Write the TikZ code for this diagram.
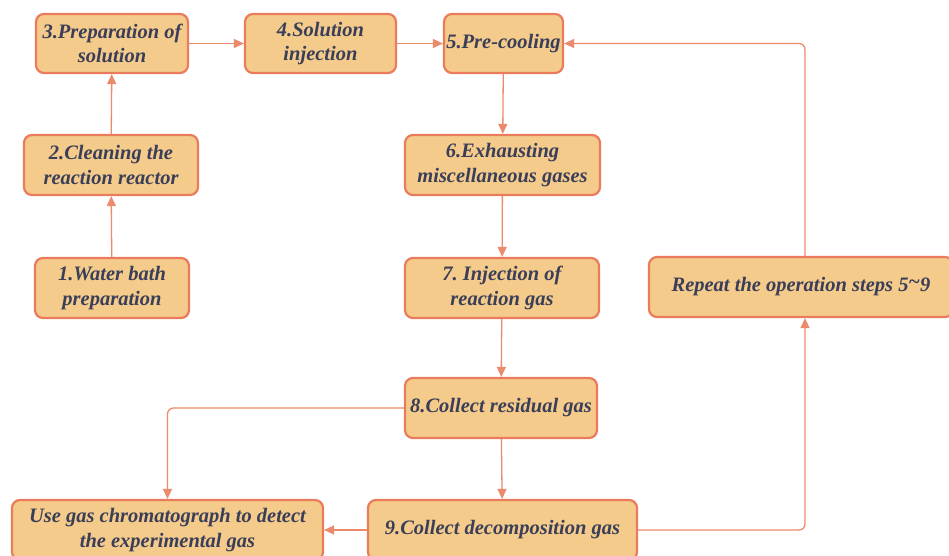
\documentclass[tikz,border=0pt]{standalone}
\usepackage{fontspec}
\setmainfont{Liberation Serif}
\usetikzlibrary{arrows.meta}
\definecolor{boxfill}{HTML}{F4CB8A}
\definecolor{boxline}{HTML}{EA7C5D}
\definecolor{linkline}{HTML}{EC8A6E}
\definecolor{ink}{HTML}{3A3E58}
\tikzset{
  stepbox/.style={draw=boxline, fill=boxfill, line width=2.2pt, rounded corners=8pt,
    align=center, inner sep=0pt, text=ink,
    font=\fontsize{20.5}{24.5}\selectfont\bfseries\itshape},
  link/.style={draw=linkline, line width=1.3pt, rounded corners=6pt,
    -{Triangle[length=10pt,width=9pt]}}
}
\begin{document}
\begin{tikzpicture}[x=1pt,y=-1pt]
\useasboundingbox (0,0) rectangle (949,556);
\clip (0,0) rectangle (949,556);
\fill[white] (0,0) rectangle (949,556);

% process steps
\node[stepbox, minimum width=152, minimum height=59] (b3) at (112,43.5) {3.Preparation of\\solution};
\node[stepbox, minimum width=151, minimum height=59] (b4) at (320.5,43.5) {4.Solution\\injection};
\node[stepbox, minimum width=119, minimum height=59] (b5) at (503.5,43.5) {5.Pre-cooling};
\node[stepbox, minimum width=174, minimum height=60] (b2) at (111,165) {2.Cleaning the\\reaction reactor};
\node[stepbox, minimum width=154, minimum height=60] (b1) at (112,288) {1.Water bath\\preparation};
\node[stepbox, minimum width=195, minimum height=60] (b6) at (502.5,165) {6.Exhausting\\miscellaneous gases};
\node[stepbox, minimum width=194, minimum height=60] (b7) at (502,288) {7.\ Injection of\\reaction gas};
\node[stepbox, minimum width=192, minimum height=60] (b8) at (501,408) {8.Collect residual gas};
\node[stepbox, minimum width=269, minimum height=60] (b9) at (502.5,530) {9.Collect decomposition gas};
\node[stepbox, minimum width=311, minimum height=60] (gc) at (167.5,530) {Use gas chromatograph to detect\\the experimental gas};
\node[stepbox, minimum width=304, minimum height=60] (rep) at (801,287) {Repeat the operation steps 5\raisebox{0.35ex}{\char`\~}9};

% connectors
\draw[link] (b1) -- (b2);
\draw[link] (b2) -- (b3);
\draw[link] (b3) -- (b4);
\draw[link] (b4) -- (b5);
\draw[link] (b5) -- (b6);
\draw[link] (b6) -- (b7);
\draw[link] (b7) -- (b8);
\draw[link] (b8) -- (b9);
\draw[link] (b8.west) -| (gc.north);
\draw[link] (b9.west) -- (gc.east);
\draw[link] (b9.east) -| ([xshift=4]rep.south);
\draw[link] ([xshift=4]rep.north) |- (b5.east);
\end{tikzpicture}
\end{document}
